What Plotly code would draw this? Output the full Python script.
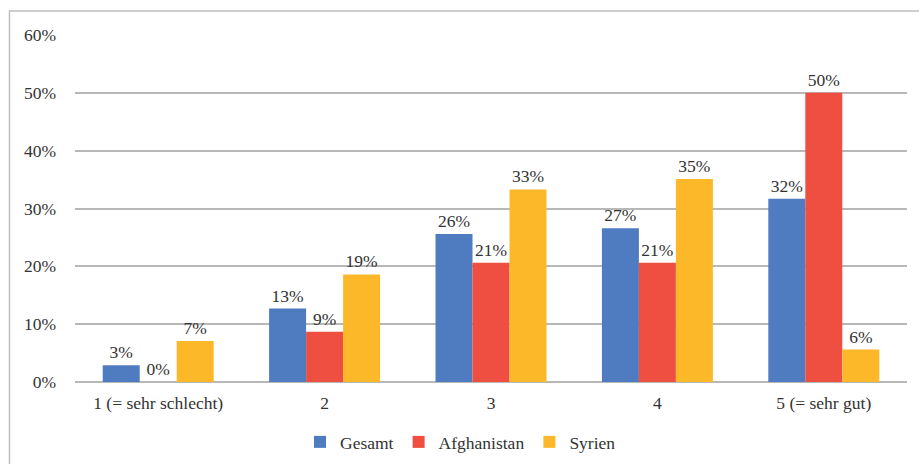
import plotly.graph_objects as go

# Bewertung auf einer Skala von 1 bis 5, Anteile in Prozent
categories = ["1 (= sehr schlecht)", "2", "3", "4", "5 (= sehr gut)"]
gesamt = [2.9, 12.7, 25.6, 26.6, 31.7]
afghanistan = [0.0, 8.7, 20.6, 20.6, 50.0]
syrien = [7.1, 18.6, 33.3, 35.1, 5.6]
y_ticks = [0, 10, 20, 30, 40, 50, 60]

series = [
    ("Gesamt", gesamt, "#4F7BC0"),
    ("Afghanistan", afghanistan, "#EF4F41"),
    ("Syrien", syrien, "#FCB828"),
]

FONT = "Liberation Serif, Times New Roman, serif"
TEXT = "#333333"
GRID = "#B8B8B8"
FS = 17.5

fig = go.Figure()
for name, vals, color in series:
    fig.add_trace(go.Bar(
        name=name,
        x=categories,
        y=vals,
        marker=dict(color=color, line=dict(width=0)),
        text=vals,
        texttemplate="%{y:.0f}%",
        textposition="outside",
        textfont=dict(family=FONT, size=FS, color=TEXT),
        cliponaxis=False,
    ))

W, H = 919, 464
left, right, top, bottom = 75, 12, 35, 82
pw = W - left - right
ph = H - top - bottom

# outer frame of the chart area (left and top edges visible)
fx = (9.5 - left) / pw
fy_top = (ph + top - 11) / ph
fig.add_shape(type="path", xref="paper", yref="paper",
              path=f"M {fx} -1 L {fx} {fy_top} L 2 {fy_top}",
              line=dict(color="#BFBFBF", width=1.5))

fig.update_layout(
    width=W, height=H,
    margin=dict(l=left, r=right, t=top, b=bottom, autoexpand=False),
    paper_bgcolor="white", plot_bgcolor="white",
    barmode="group", bargap=0.333, bargroupgap=0,
    font=dict(family=FONT, size=FS, color=TEXT),
    showlegend=True,
    legend=dict(orientation="h", xref="container", x=300 / W, xanchor="left",
                yref="container", y=1 - 442 / H, yanchor="middle",
                font=dict(family=FONT, size=FS, color=TEXT),
                itemwidth=30, traceorder="normal"),
    xaxis=dict(showgrid=False, showline=False, ticks="", automargin=False,
               ticklabelstandoff=8,
               tickfont=dict(family=FONT, size=FS, color=TEXT)),
    yaxis=dict(range=[0, 60], tickvals=y_ticks, automargin=False,
               ticktext=[f"{v}%" for v in y_ticks],
               showgrid=True, gridcolor=GRID, gridwidth=1.5,
               zeroline=True, zerolinecolor=GRID, zerolinewidth=1.5,
               showline=False, ticks="", ticklabelstandoff=18,
               tickfont=dict(family=FONT, size=FS, color=TEXT)),
)

fig.write_html("out.html")
